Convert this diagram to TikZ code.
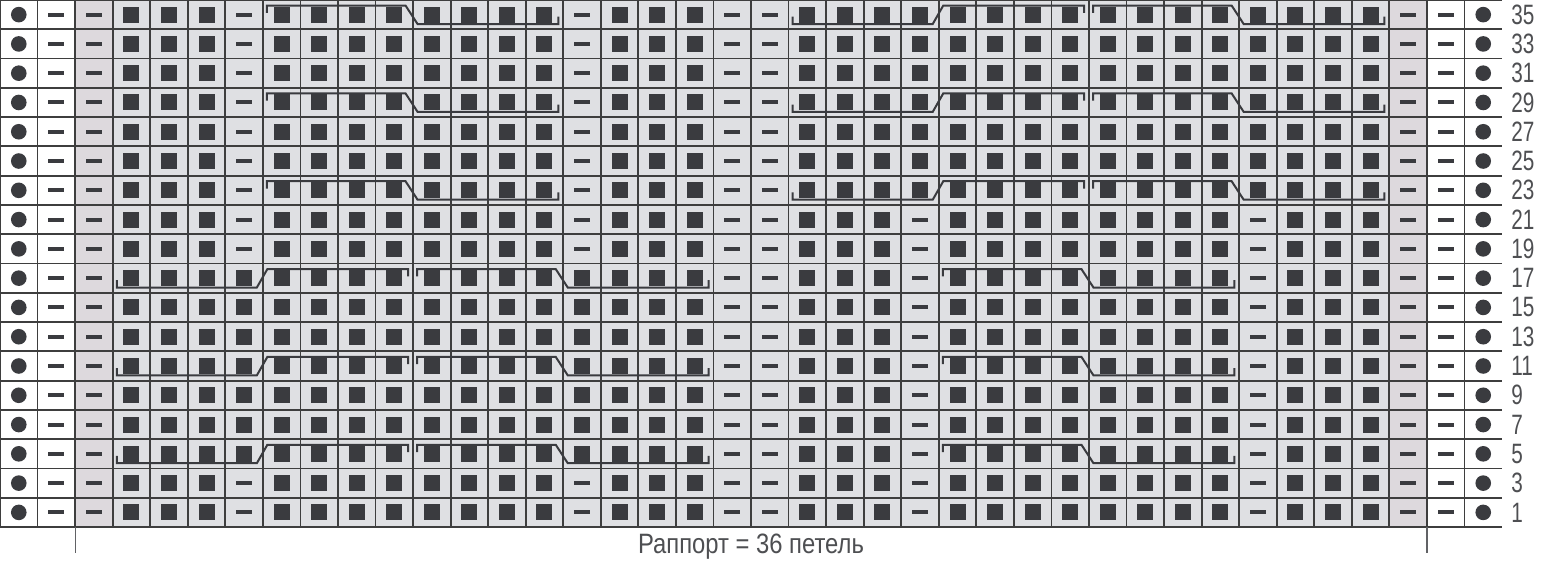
\documentclass[tikz,border=0pt]{standalone}
\usepackage{fontspec}
\newfontfamily\numfont{Liberation Sans}[FakeStretch=0.74]
\newfontfamily\labelfont{Liberation Sans}[FakeStretch=0.85]

\definecolor{ink}{HTML}{3A3B3F}
\definecolor{chartgray}{HTML}{DFE0E3}
\definecolor{edgegray}{HTML}{DDD9DD}
\definecolor{gridline}{HTML}{3E3E3E}

% stitch symbols: #1 = stitch of the repeat (0 and 37 are the edge purls), #2 = row from top
\newcommand{\knit}[2]{\fill[ink] (#1+1.5,#2+0.5) +(-4pt,-4pt) rectangle +(4pt,4pt);}
\newcommand{\purl}[2]{\fill[ink] (#1+1.5,#2+0.5) +(-4pt,-1pt) rectangle +(4pt,1pt);}
\newcommand{\edgedot}[2]{\fill[ink] (#1+1.5,#2+0.5) circle[radius=3.9pt];}

% 4 over 4 cables, #1 = first stitch, #2 = row
\newcommand{\cabledown}[2]{\draw[cable] (#1+1.11,#2+0.44) -- (#1+1.11,#2+0.19) -- (#1+4.8,#2+0.19)
  -- (#1+5.12,#2+0.82) -- (#1+8.87,#2+0.82) -- (#1+8.87,#2+0.57);}
\newcommand{\cableup}[2]{\draw[cable] (#1+1.11,#2+0.57) -- (#1+1.11,#2+0.82) -- (#1+4.84,#2+0.82)
  -- (#1+5.12,#2+0.19) -- (#1+8.87,#2+0.19) -- (#1+8.87,#2+0.44);}

\begin{document}
\begin{tikzpicture}[
  x=18.775pt, y=-14.64pt,
  gridline/.style={draw=gridline, line width=0.9pt},
  cable/.style={draw=ink, line width=1pt, line join=miter},
  rownum/.style={font=\numfont\fontsize{14}{14}\selectfont, text=ink!90, anchor=west, inner sep=0pt},
  labeltext/.style={font=\labelfont\fontsize{14}{14}\selectfont, text=ink!90, inner sep=0pt},
  tick/.style={draw=ink!80, line width=0.6pt},
]
\useasboundingbox (0,0) rectangle (41.225,19.98);
\fill[white] (0,0) rectangle (41.225,19.98);

%% Background of the repeat
\fill[chartgray] (2,0) rectangle (38,18);
\fill[edgegray] (2,0) rectangle (3,18);
\fill[edgegray] (37,0) rectangle (38,18);

%% Grid
\foreach \r in {0,...,18}
  \draw[gridline] (0,\r) -- (40,\r);
\foreach \c in {0,...,39}
  \draw[gridline] (\c,0) -- (\c,18);

%% Edge stitches
\foreach \r in {0,...,17} {
  \edgedot{-1}{\r} \purl{0}{\r} \purl{37}{\r} \edgedot{38}{\r}
}

%% Rows 35-23
\foreach \r in {0,...,6} {
  \foreach \a/\b in {2/4,6/13,15/17,20/35}
    \foreach \k in {\a,...,\b} {\knit{\k}{\r}}
  \foreach \k in {1,5,14,18,19,36} {\purl{\k}{\r}}
}

%% Rows 21, 19, 3, 1
\foreach \r in {7,8,16,17} {
  \foreach \a/\b in {2/4,6/13,15/17,20/22,24/31,33/35}
    \foreach \k in {\a,...,\b} {\knit{\k}{\r}}
  \foreach \k in {1,5,14,18,19,23,32,36} {\purl{\k}{\r}}
}

%% Rows 17-5
\foreach \r in {9,...,15} {
  \foreach \a/\b in {2/17,20/22,24/31,33/35}
    \foreach \k in {\a,...,\b} {\knit{\k}{\r}}
  \foreach \k in {1,18,19,23,32,36} {\purl{\k}{\r}}
}

%% Cables
\foreach \r in {0,3,6} {
  \cabledown{6}{\r} \cableup{20}{\r} \cabledown{28}{\r}
}
\foreach \r in {9,12,15} {
  \cableup{2}{\r} \cabledown{10}{\r} \cabledown{24}{\r}
}

%% Row numbers
\foreach \r in {0,...,17} {
  \pgfmathtruncatemacro{\n}{35-2*\r}
  \node[rownum] (row\n) at (40.24,\r+0.5) {\n};
}

%% Repeat
\draw[tick] (2,18) -- (2,18.88);
\draw[tick] (38,18) -- (38,18.88);
\node[labeltext] (rapport) at (20,18.66) {Раппорт = 36 петель};

\end{tikzpicture}
\end{document}
